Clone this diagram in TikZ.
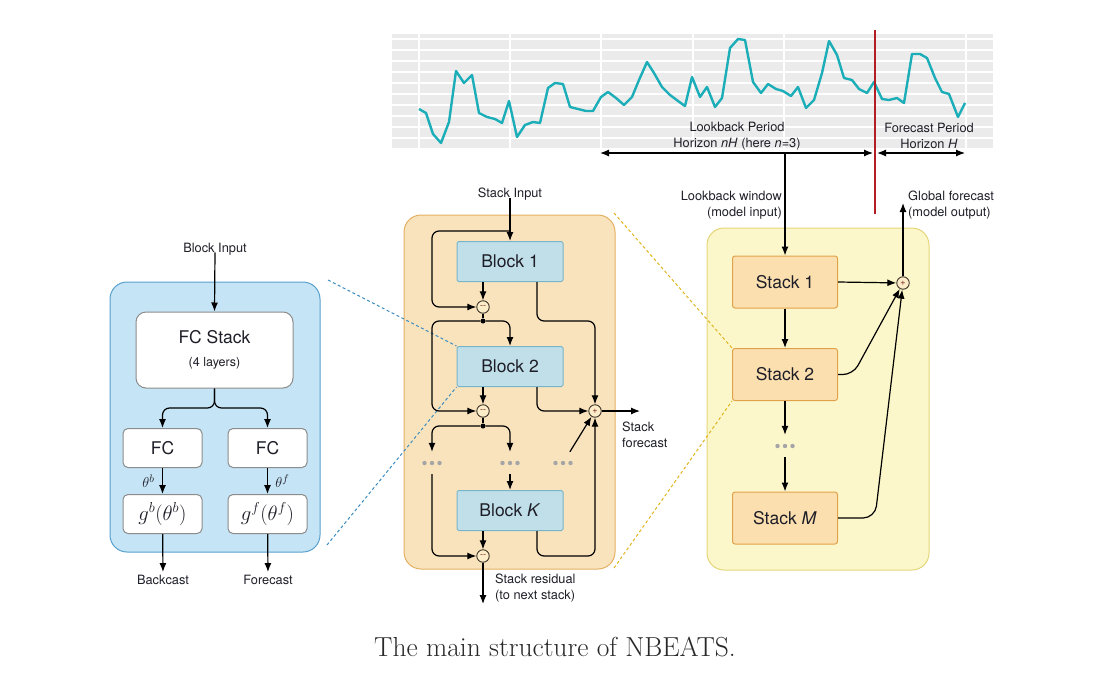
\documentclass[tikz,border=0pt]{standalone}
\usepackage{fontspec}
\usepackage{amsmath}
\newfontfamily\helv{TeX Gyre Heros}
\usetikzlibrary{arrows.meta,positioning,calc}
\definecolor{txt}{RGB}{30,30,40}
\definecolor{captxt}{RGB}{40,40,40}
\definecolor{gridgray}{RGB}{235,235,235}
\definecolor{series}{RGB}{28,174,184}
\definecolor{splitred}{RGB}{178,30,35}
\definecolor{lpfill}{RGB}{197,228,245}
\definecolor{lpline}{RGB}{88,160,205}
\definecolor{mpfill}{RGB}{249,227,189}
\definecolor{mpline}{RGB}{228,176,98}
\definecolor{rpfill}{RGB}{251,247,202}
\definecolor{rpline}{RGB}{228,214,120}
\definecolor{blkfill}{RGB}{193,223,232}
\definecolor{blkline}{RGB}{120,180,202}
\definecolor{stkfill}{RGB}{251,223,175}
\definecolor{stkline}{RGB}{226,162,75}
\definecolor{fcline}{RGB}{140,140,140}
\definecolor{opfill}{RGB}{252,236,200}
\definecolor{opline}{RGB}{60,50,40}
\definecolor{opsign}{RGB}{120,40,30}
\definecolor{dotgray}{RGB}{165,165,165}
\definecolor{bluedash}{RGB}{60,140,192}
\definecolor{yellowdash}{RGB}{224,180,30}
\begin{document}
\begin{tikzpicture}[x=1pt,y=-1pt,
  every node/.style={text=txt},
  sm/.style={font=\helv\fontsize{12.8}{15.5}\selectfont, align=center, inner sep=0pt},
  big/.style={font=\helv\fontsize{17.5}{20}\selectfont},
  arr/.style={-{Latex[length=9,width=7]}, line width=1.2pt},
  dimarr/.style={{Latex[length=9,width=7]}-{Latex[length=9,width=7]}, line width=1.2pt},
  ln/.style={line width=1.2pt},
  rc/.style={rounded corners=7},
  panel/.style={draw, line width=1pt, rounded corners=17, inner sep=0pt},
  blk/.style={big, draw=blkline, fill=blkfill, line width=1pt, minimum width=106, minimum height=40, rounded corners=1.5},
  stk/.style={big, draw=stkline, fill=stkfill, line width=1pt, minimum width=105, minimum height=52, rounded corners=2.5},
  fcb/.style={big, draw=fcline, fill=white, line width=1pt, rounded corners=5, minimum width=79, minimum height=39},
  op/.style={circle, draw=opline, fill=opfill, line width=0.9pt, minimum size=12.5, inner sep=0pt, text=opsign, font=\helv\fontsize{9}{9}\selectfont},
  jn/.style={circle, fill=black, minimum size=5, inner sep=0pt},
  dts/.style={minimum width=24, minimum height=22, inner sep=0pt,
    path picture={\foreach \i in {-7.5,0,7.5}
      \fill[dotgray] ($(path picture bounding box.center)+(\i,0)$) circle (2.2);}},
  dsh/.style={line width=1pt, dash pattern=on 3pt off 2.5pt},
]
\useasboundingbox (0,0) rectangle (1105,680);

% time series chart
\fill[gridgray] (392,34) rectangle (993,148);
\foreach \y in {39,50,...,138}
  \draw[white, line width=1.5pt] (392,\y) -- (993,\y);
\foreach \x in {419,510,601,693,784,875,966}
  \draw[white, line width=1.5pt] (\x,34) -- (\x,151);
\draw[series, line width=2.4pt, line join=round] plot coordinates {
 (419,109) (426,113) (433,134) (441,143) (449,122) (456,71) (464,83) (472,75)
 (479,113) (487,117) (495,119) (502,123) (509,101) (517,137) (525,125) (533,122)
 (540,123) (548,88) (555,83) (563,84) (570,107) (578,109) (586,111) (593,111)
 (601,97) (608,92) (616,98) (624,105) (632,97) (639,80) (647,62) (654,73)
 (662,87) (670,95) (678,101) (685,106) (692,77) (700,97) (707,87) (715,107)
 (722,98) (730,48) (738,39) (745,40) (753,82) (761,93) (768,84) (776,89)
 (783,91) (791,96) (798,87) (806,108) (814,100) (822,73) (829,41) (837,55)
 (844,78) (852,80) (859,89) (867,93) (874,82) (882,99) (889,100) (897,98)
 (904,103) (912,54) (920,54) (927,58) (935,78) (942,92) (949,94) (958,117)
 (965,103)};
\draw[splitred, line width=2.4pt] (875,30) -- (875,214);
\coordinate (lbs) at (600,153);
\coordinate (lbe) at (873,153);
\coordinate (fcs0) at (877,153);
\coordinate (fce) at (965,153);
\draw[dimarr] (lbs) -- (lbe);
\draw[dimarr] (fcs0) -- (fce);
\node[sm] (lbp) at (737,136) {Lookback Period\\Horizon \textit{nH} (here \textit{n}=3)};
\node[sm] (fcp) at (929,136) {Forecast Period\\Horizon \textit{H}};

% panels
\node[panel, draw=lpline, fill=lpfill, minimum width=210, minimum height=270] (lp) at (215,417) {};
\node[panel, draw=mpline, fill=mpfill, minimum width=211, minimum height=354] (mp) at (509.5,392) {};
\node[panel, draw=rpline, fill=rpfill, minimum width=222, minimum height=342] (rp) at (818,399) {};

% block level
\node[sm] (bin) at (215,249) {Block Input};
\node[fcb, minimum width=157, minimum height=76, rounded corners=10, align=center] (fcs) at (214.5,350)
  {FC Stack\\[3pt]{\helv\fontsize{12.5}{14}\selectfont (4 layers)}};
\node[fcb] (fcl) at (162.5,448) {FC};
\node[fcb] (fcr) at (267.5,448) {FC};
\node[fcb, font=\fontsize{20}{22}\selectfont] (gl) at (162.5,514) {$g^b(\theta^b)$};
\node[fcb, font=\fontsize{20}{22}\selectfont] (gr) at (267.5,514) {$g^f(\theta^f)$};
\node[sm] (bcl) at (163,580) {Backcast};
\node[sm] (fcl2) at (268,580) {Forecast};
\coordinate (sp) at (214.5,408);
\draw[arr] (bin.south) ++(0,-3) -- (fcs.north);
\draw[arr, rc] (fcs.south) -- (sp) -| (fcl.north);
\draw[arr, rc] (fcs.south) -- (sp) -| (fcr.north);
\draw[arr] (fcl) -- (gl) node[midway, left=4pt, font=\fontsize{15}{15}\selectfont] {$\theta^b$};
\draw[arr] (fcr) -- (gr) node[midway, right=4pt, font=\fontsize{15}{15}\selectfont] {$\theta^f$};
\draw[arr, shorten >=3pt] (gl) -- (bcl.north);
\draw[arr, shorten >=3pt] (gr) -- (fcl2.north);

% stack level
\node[blk] (b1) at (510,261.5) {Block 1};
\node[blk] (b2) at (510,366.5) {Block 2};
\node[blk] (bk) at (510,510.5) {Block \textit{K}};
\node[op] (m1) at (483,307) {--};
\node[op] (m2) at (483,411) {--};
\node[op] (m3) at (483,556) {--};
\node[op] (pl) at (595,411) {+};
\node[jn] (dt1) at (483,321) {};
\node[jn] (dt2) at (483,426) {};
\node[dts] (ld) at (432,463) {};
\node[dts] (md) at (510,463) {};
\node[dts] (rd) at (563,463) {};
\node[sm] (sinl) at (510,194) {Stack Input};
\node[sm, anchor=west, align=left] (sfl) at (622,435) {Stack\\forecast};
\node[sm, anchor=west, align=left] (srl) at (495,588) {Stack residual\\(to next stack)};
\coordinate (rail) at (432,0);
\coordinate (j1) at (510,231);
\coordinate (sfc) at (640,411);
\coordinate (res) at (483,604);

\draw[dsh, bluedash] (328,280) -- (b2.north west);
\draw[dsh, bluedash] (327,545) -- (b2.south west);

\draw[arr] (sinl.south) ++(0,-2) -- (b1.north);
\draw[arr, rc] (j1) -| (rail |- m1) -- (m1);
\draw[arr] (b1.south -| m1) -- (m1);
\draw[arr, rc] ([xshift=27]b1.south) |- (dt1 -| pl) -- (pl);
\draw[ln] (m1) -- (dt1);
\draw[arr, rc] (dt1) -| (b2.north);
\draw[arr, rc] (dt1) -| (rail |- m2) -- (m2);
\draw[arr] (b2.south -| m2) -- (m2);
\draw[arr, rc] ([xshift=27]b2.south) |- (pl);
\draw[ln] (m2) -- (dt2);
\draw[arr, rc] (dt2) -| (ld.north);
\draw[arr, rc] (dt2) -| (md.north);
\draw[arr] (md.south) -- (bk.north);
\draw[arr] (rd) -- (pl);
\draw[arr, rc] (ld.south) |- (m3);
\draw[arr] (bk.south -| m3) -- (m3);
\draw[arr, rc] ([xshift=27]bk.south) |- (m3 -| pl) -- (pl);
\draw[arr] (pl) -- (sfc);
\draw[arr] (m3) -- (res);

% model level
\node[stk] (s1) at (785,282) {Stack 1};
\node[stk] (s2) at (785,374.5) {Stack 2};
\node[stk] (sm) at (785,518) {Stack \textit{M}};
\node[dts] (rdts) at (785,446) {};
\node[op] (pr) at (903,283) {+};
\node[sm, anchor=east, align=right] (lwl) at (782,205) {Lookback window\\(model input)};
\node[sm, anchor=west, align=left] (gfl) at (908,205) {Global forecast\\(model output)};
\coordinate (lw) at (785,153);
\coordinate (gf) at (903,203);
\coordinate (k2) at (853,374.5);
\coordinate (km) at (875,518);

\draw[dsh, yellowdash] (614,213) -- (s2.north west);
\draw[dsh, yellowdash] (614,568) -- (s2.south west);

\draw[arr] (lw) -- (s1.north);
\draw[arr] (s1) -- (s2);
\draw[arr] (s2) -- (rdts.north);
\draw[arr] (rdts.south) -- (sm);
\draw[arr] (s1.east) -- (pr);
\draw[arr, rounded corners=10] (s2.east) -- (k2) -- (pr);
\draw[arr, rounded corners=12] (sm.east) -- (km) -- (pr);
\draw[arr] (pr) -- (gf);

\node[font=\fontsize{27.5}{32}\selectfont, text=captxt] (cap) at (555,647) {The main structure of NBEATS.};
\end{tikzpicture}
\end{document}
